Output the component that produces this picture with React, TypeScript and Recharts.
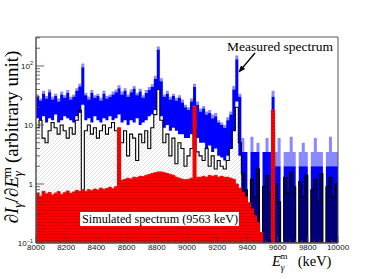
import React from "react";
import { ComposedChart, Area, XAxis, YAxis, ReferenceArea } from "recharts";

// bin lower edges, 20 keV bins from 8000 to 10000
const BIN_START = 8000;
const BIN_WIDTH = 20;
const N_BINS = 100;

const X_LABEL_TICKS = [8000, 8200, 8400, 8600, 8800, 9000, 9200, 9400, 9600, 9800, 10000];
const Y_LABEL_TICKS = [0.1, 1, 10, 100];
const TAIL_START = 9360; // above this energy the measured counts are sparse

// measured spectrum (blue): band low / high, light error top
const BLUE_HI = [
  30, 26, 34, 28, 36, 27, 31, 25, 33, 29, 35, 27, 30, 38,
  45, 95,
  32, 27, 35, 29, 31, 26, 34, 28, 30, 33, 36,
  42,
  33, 38, 30, 36, 41, 32, 37, 29, 35, 39, 44,
  60, 190, 55,
  30, 34, 27, 31, 26, 29, 24, 20,
  18, 25, 44, 22,
  17, 19, 15, 16, 13, 14, 11, 10,
  9, 12, 15,
  40, 130, 30,
  3.5, 3.5, 0.1, 3.5, 3.5, 3.5, 0.1, 3.5, 3.5, 3.5,
  30,
  2, 2, 0.1, 2, 2, 2, 2, 0.1, 2, 2, 2, 0.1, 2, 2, 2, 2, 0.1, 2, 2, 2, 2,
];
const BLUE_LO = [
  13, 12, 14, 11, 13, 12, 15, 11, 12, 14, 13, 12, 11, 14,
  16, 22,
  12, 13, 11, 14, 12, 11, 13, 12, 14, 12, 13,
  15,
  11, 12, 10, 12, 11, 13, 10, 11, 12, 14, 15,
  18, 40, 14,
  9, 10, 8, 9, 8, 7, 7, 6,
  6, 7, 12, 6,
  5, 5, 4, 4.5, 3.5, 4, 3, 2.8,
  2.5, 3, 4,
  8, 25, 3,
  0.1, 0.1, 0.1, 0.1, 0.1, 0.1, 0.1, 0.1, 0.1, 0.1,
  0.1,
  0.1, 0.1, 0.1, 0.1, 0.1, 0.1, 0.1, 0.1, 0.1, 0.1, 0.1, 0.1, 0.1, 0.1, 0.1, 0.1, 0.1, 0.1, 0.1, 0.1, 0.1,
];
const BLUE_ERR = [
  33, 28, 38, 31, 40, 30, 34, 28, 37, 32, 39, 30, 33, 42,
  50, 110,
  35, 30, 39, 32, 34, 29, 38, 31, 33, 37, 40,
  47,
  37, 42, 33, 40, 46, 35, 41, 32, 39, 44, 49,
  68, 215, 62,
  33, 38, 30, 34, 29, 32, 27, 22,
  20, 28, 50, 25,
  19, 21, 17, 18, 15, 16, 12, 11,
  10, 13.5, 17,
  46, 150, 34,
  6, 3.5, 0.1, 6.3, 3.5, 5, 0.1, 3.5, 6, 3.5,
  38,
  3.5, 6, 0.1, 3.5, 3.5, 6.3, 3.5, 0.1, 3.5, 5, 3.5, 0.1, 3.5, 6, 3.5, 3.5, 0.1, 3.5, 6.3, 3.5, 3.5,
];
// black spectrum
const BLACK = [
  9, 12, 6, 5, 8, 11, 9, 7, 10, 8, 6, 9, 7, 12,
  18, 0.1,
  8, 10, 7, 9, 6, 8, 10, 7, 9, 11, 8,
  0.1,
  5, 8, 3, 7, 6, 2.5, 7, 5, 8, 4, 9,
  15, 40, 12,
  5, 7, 3, 6, 2.2, 5, 4, 2,
  3, 4, 9, 3.5,
  3, 2.5, 4, 2, 3, 1.8, 2.5, 2,
  1.8, 2.5, 4,
  8, 20, 5,
  1.5, 0.8, 0.1, 1.2, 0.6, 1.8, 0.1, 0.9, 1.4, 0.7,
  8,
  1.0, 0.5, 0.1, 1.3, 0.7, 1.6, 0.9, 0.1, 1.1, 0.6, 1.4, 0.1, 0.8, 1.2, 0.5, 1.5, 0.1, 0.9, 1.3, 0.6, 1.0,
];
// simulated spectrum (red)
const RED = [
  0.7, 0.62, 0.75, 0.68, 0.72, 0.65, 0.7, 0.74, 0.66, 0.71, 0.76, 0.69, 0.73, 0.78,
  0.75, 0.8,
  0.74, 0.8, 0.77, 0.82, 0.79, 0.85, 0.81, 0.84, 0.88, 0.83, 0.9,
  9,
  1.15, 1.2, 1.25, 1.22, 1.3, 1.28, 1.35, 1.33, 1.4, 1.45, 1.5,
  1.55, 1.6, 1.6,
  1.55, 1.5, 1.45, 1.4, 1.3, 1.25, 1.2, 1.18,
  1.2, 1.25, 21, 1.3,
  1.3, 1.35, 1.3, 1.4, 1.35, 1.4, 1.3, 1.35,
  1.3, 1.3, 1.25,
  1.2, 1.0, 0.85,
  0.72, 0.6, 0.48, 0.38, 0.29, 0.22, 0.15, 0.1, 0.1, 0.1,
  18,
  0.1, 0.1, 0.1, 0.1, 0.1, 0.1, 0.1, 0.1, 0.1, 0.1, 0.1, 0.1, 0.1, 0.1, 0.1, 0.1, 0.1, 0.1, 0.1, 0.1, 0.1,
];

const rows = Array.from({ length: N_BINS + 1 }, (_, i) => {
  const k = Math.min(i, N_BINS - 1);
  const e = BIN_START + BIN_WIDTH * i;
  return {
    e,
    blue: [BLUE_LO[k], BLUE_HI[k]],
    err: [BLUE_HI[k], BLUE_ERR[k]],
    black: BLACK[k],
    dark: e >= TAIL_START ? BLACK[k] : null,
    red: RED[k],
  };
});

const X_TICKS = Array.from({ length: 51 }, (_, i) => 8000 + 40 * i);
const Y_TICKS: number[] = [];
[0.1, 1, 10, 100].forEach((d) => {
  for (let m = 1; m <= 9; m++) {
    const v = +(d * m).toPrecision(3);
    if (v <= 310) Y_TICKS.push(v);
  }
});

const TICK_FONT = "'Liberation Sans', Arial, sans-serif";
const SERIF = "'Liberation Serif', 'Times New Roman', serif";

const XTick = (props: any) => {
  const { x, y, payload } = props;
  const v = payload.value;
  const major = X_LABEL_TICKS.includes(v);
  return (
    <g>
      <line x1={x} x2={x} y1={y} y2={y - (major ? 7 : 3.5)} stroke="#444" strokeWidth={0.8} />
      {major && (
        <text x={x} y={y + 6.5} textAnchor="middle" fontSize={8} fontFamily={TICK_FONT} fill="#111">
          {v}
        </text>
      )}
    </g>
  );
};

const YTick = (props: any) => {
  const { x, y, payload } = props;
  const v = payload.value;
  const major = Y_LABEL_TICKS.some((t) => Math.abs(t - v) < 1e-9);
  const ax = x + 3;
  let label: React.ReactNode = null;
  if (major) {
    if (v === 0.1)
      label = (
        <>
          <tspan>10</tspan>
          <tspan dy={-3.5} fontSize={5.5}>−1</tspan>
        </>
      );
    else if (v === 100)
      label = (
        <>
          <tspan>10</tspan>
          <tspan dy={-3.5} fontSize={5.5}>2</tspan>
        </>
      );
    else label = <tspan>{v}</tspan>;
  }
  return (
    <g>
      <line x1={ax} x2={ax + (major ? 8 : 4)} y1={y} y2={y} stroke="#444" strokeWidth={0.8} />
      {major && (
        <text x={x} y={y + 3} textAnchor="end" fontSize={8} fontFamily={TICK_FONT} fill="#111">
          {label}
        </text>
      )}
    </g>
  );
};

export default function App() {
  return (
    <div style={{ position: "absolute", left: 0, top: 0, width: 374, height: 279, background: "#fff" }}>
      <svg width={0} height={0} style={{ position: "absolute" }}>
        <defs>
          <pattern id="hatch" patternUnits="userSpaceOnUse" width={4} height={4}>
            <path d="M-1,1 l2,-2 M0,4 l4,-4 M3,5 l2,-2" stroke="#d2d2d2" strokeWidth={0.7} />
          </pattern>
          <pattern id="redfill" patternUnits="userSpaceOnUse" width={4} height={3}>
            <rect x={0} y={0} width={4} height={3} fill="#ff0000" />
            <line x1={0} x2={4} y1={0.5} y2={0.5} stroke="#d00000" strokeWidth={0.8} />
          </pattern>
        </defs>
      </svg>
      <ComposedChart width={374} height={279} data={rows} margin={{ top: 37, right: 36, bottom: 0, left: 0 }}>
        <XAxis
          dataKey="e"
          type="number"
          domain={[8000, 10000]}
          allowDataOverflow
          ticks={X_TICKS}
          interval={0}
          height={36}
          tickSize={0}
          tickMargin={0}
          tickLine={false}
          tick={XTick}
          axisLine={{ stroke: "#555" }}
        />
        <YAxis
          scale="log"
          domain={[0.1, 310]}
          allowDataOverflow
          ticks={Y_TICKS}
          interval={0}
          width={36}
          tickSize={0}
          tickMargin={3}
          tickLine={false}
          tick={YTick}
          axisLine={{ stroke: "#555" }}
        />
        <Area dataKey="black" type="stepAfter" baseValue={0.1} fill="url(#hatch)" fillOpacity={1} stroke="none" isAnimationActive={false} />
        <Area dataKey="err" type="stepAfter" fill="#8a8aff" fillOpacity={1} stroke="none" isAnimationActive={false} />
        <Area dataKey="blue" type="stepAfter" fill="#0000ff" fillOpacity={1} stroke="none" isAnimationActive={false} />
        <Area dataKey="dark" type="stepAfter" baseValue={0.1} fill="#000040" fillOpacity={0.7} stroke="none" connectNulls={false} isAnimationActive={false} />
        <Area dataKey="black" type="stepAfter" fill="none" stroke="#000" strokeWidth={1.1} isAnimationActive={false} />
        <Area dataKey="red" type="stepAfter" baseValue={0.1} fill="url(#redfill)" fillOpacity={1} stroke="#ff0000" strokeWidth={1} isAnimationActive={false} />
        <ReferenceArea x1={8000} x2={10000} y1={0.1} y2={310} fill="none" stroke="#555" strokeWidth={1} />
      </ComposedChart>
      <svg width={374} height={279} style={{ position: "absolute", left: 0, top: 0, pointerEvents: "none" }}>
        <text transform="translate(18,137) rotate(-90)" textAnchor="middle" fontFamily={SERIF} fontSize={19} fill="#000">
          <tspan>∂</tspan>
          <tspan fontStyle="italic">I</tspan>
          <tspan fontStyle="italic" fontSize={13} dy={4}>γ</tspan>
          <tspan dy={-4}>/∂</tspan>
          <tspan fontStyle="italic">E</tspan>
          <tspan fontStyle="italic" fontSize={13} dy={4}>γ</tspan>
          <tspan fontSize={13} dx={-6} dy={-11}>m</tspan>
          <tspan dy={7} dx={4}>(arbitrary unit)</tspan>
        </text>
        <text x={272} y={266} fontFamily={SERIF} fontSize={14.5} fill="#000">
          <tspan fontStyle="italic">E</tspan>
          <tspan fontStyle="italic" fontSize={9.5} dy={4.5}>γ</tspan>
          <tspan fontSize={9} dx={-4} dy={-11.5}>m</tspan>
          <tspan dy={7} dx={10}>(keV)</tspan>
        </text>
        <text x={227} y={51} fontFamily={SERIF} fontSize={13.5} fill="#000">Measured spectrum</text>
        <line x1={255} y1={53} x2={242.9} y2={67.4} stroke="#000" strokeWidth={1.4} />
        <polygon points="239,72 244.6,68.8 241.2,66" fill="#000" stroke="#000" strokeWidth={0.8} />
        <rect x={80} y={212} width={159} height={14} fill="#fff" />
        <text x={82} y={223} fontFamily={SERIF} fontSize={12.2} fill="#000">Simulated spectrum (9563 keV)</text>
      </svg>
    </div>
  );
}
